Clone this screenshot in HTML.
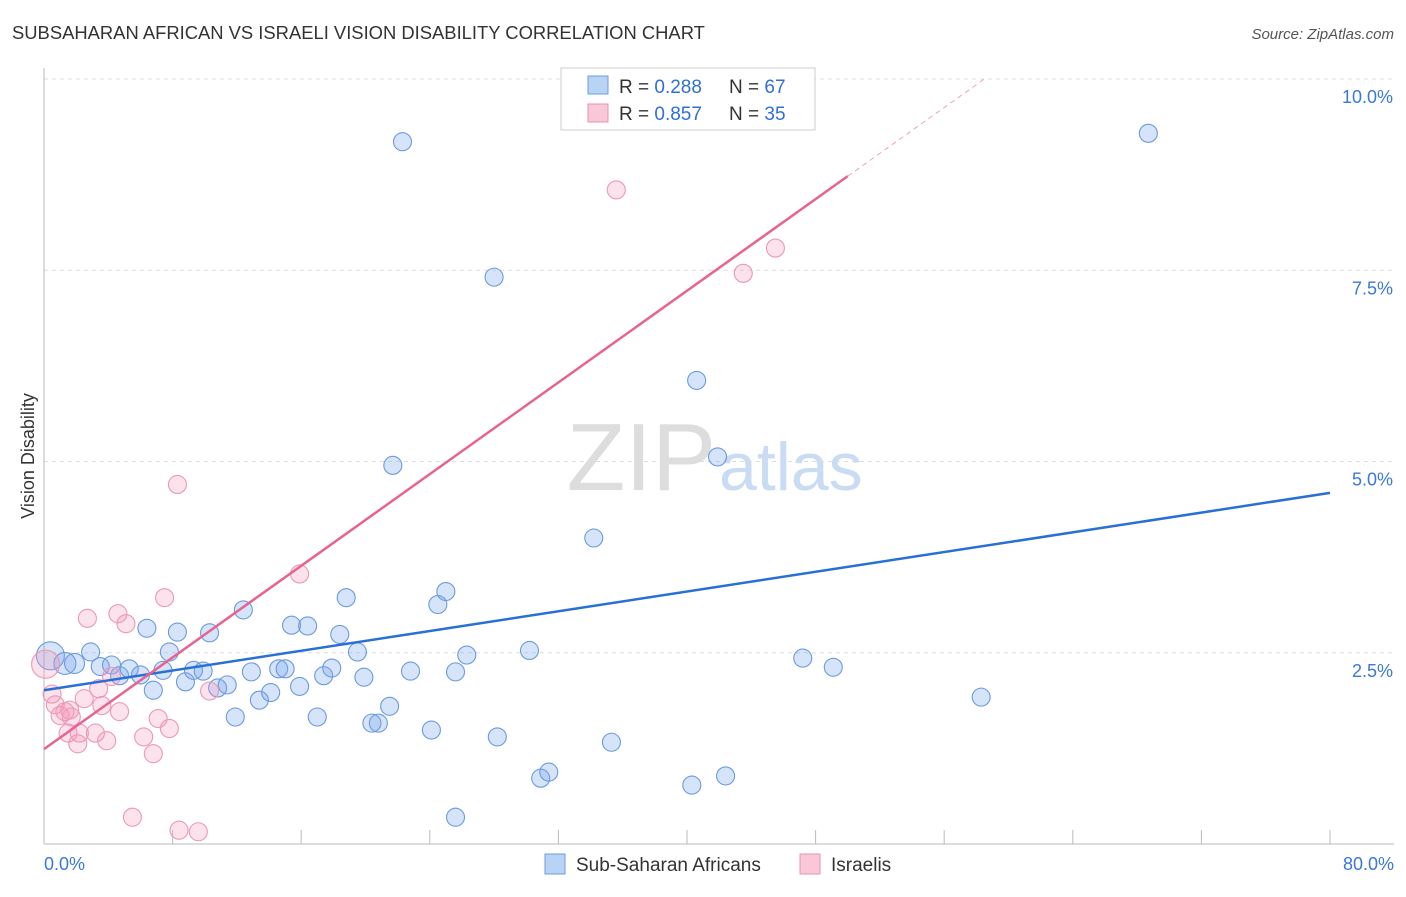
<!DOCTYPE html>
<html><head><meta charset="utf-8">
<style>
body{margin:0;background:#fff;font-family:"Liberation Sans",sans-serif;}
svg text{font-family:"Liberation Sans",sans-serif;}
</style></head>
<body>
<svg id="chart" width="1406" height="892" xmlns="http://www.w3.org/2000/svg">
<text x="12" y="39" font-size="18.4" fill="#333">SUBSAHARAN AFRICAN VS ISRAELI VISION DISABILITY CORRELATION CHART</text>
<text x="1394" y="39" font-size="15" fill="#555" text-anchor="end" font-style="italic">Source: ZipAtlas.com</text>
<text x="34" y="456" font-size="18" fill="#333" text-anchor="middle" transform="rotate(-90 34 456)">Vision Disability</text>
<text x="716" y="490" font-size="96" fill="#ddd" text-anchor="end" font-family="Liberation Serif">ZIP</text>
<text x="719" y="490" font-size="68" fill="#c9dcf3">atlas</text>
<g id="grid"></g>
<g id="axes"></g>
<g id="series-blue"></g>
<g id="series-pink"></g>
<g id="lines"></g>
<g>
<rect x="561" y="68" width="254" height="62" fill="#fff" stroke="#ccc"/>
<rect x="588" y="76" width="20" height="18" fill="#b9d3f5" stroke="#6b9ee0"/>
<rect x="588" y="104" width="20" height="18" fill="#f9c8d8" stroke="#e890ad"/>
<text x="619" y="93" font-size="19" fill="#333">R = <tspan fill="#2f6fd6">0.288</tspan></text>
<text x="729" y="93" font-size="19" fill="#333">N = <tspan fill="#2f6fd6">67</tspan></text>
<text x="619" y="120" font-size="19" fill="#333">R = <tspan fill="#2f6fd6">0.857</tspan></text>
<text x="729" y="120" font-size="19" fill="#333">N = <tspan fill="#2f6fd6">35</tspan></text>
</g>
<g>
<rect x="545" y="854" width="20" height="20" fill="#b9d3f5" stroke="#6b9ee0"/>
<text x="576" y="871" font-size="19" fill="#333">Sub-Saharan Africans</text>
<rect x="800" y="854" width="20" height="20" fill="#f9c8d8" stroke="#e890ad"/>
<text x="831" y="871" font-size="19" fill="#333">Israelis</text>
</g>
</svg>
<script>
const xTicks=[0,8,16,24,32,40,48,56,64,72,80];
const yTicks=[2.5,5.0,7.5,10.0];
const yTickLabels=["2.5%","5.0%","7.5%","10.0%"];
const xLabels=["0.0%","80.0%"];
const blueX=[0.4,1.3,1.9,2.9,3.5,4.2,4.7,5.3,6.0,6.4,6.8,7.4,7.8,8.3,8.8,9.3,9.9,10.3,10.8,11.4,11.9,12.4,12.9,13.4,14.1,14.6,15.0,15.4,15.9,16.4,17.0,17.4,17.9,18.4,18.8,19.5,19.9,20.4,20.8,21.5,21.7,22.3,22.8,24.1,24.5,25.0,25.6,25.6,26.3,28.0,28.2,30.2,30.9,31.4,34.2,35.3,40.3,40.6,41.9,42.4,47.2,49.1,58.3,68.7];
const blueY=[2.46,2.36,2.36,2.51,2.32,2.34,2.20,2.29,2.21,2.82,2.01,2.27,2.51,2.77,2.12,2.27,2.26,2.76,2.04,2.08,1.66,3.06,2.25,1.88,1.98,2.29,2.29,2.86,2.06,2.85,1.66,2.20,2.30,2.74,3.22,2.51,2.18,1.58,1.58,1.80,4.95,9.18,2.26,1.49,3.13,3.30,2.25,0.35,2.47,7.41,1.40,2.53,0.86,0.94,4.00,1.33,0.77,6.06,5.06,0.89,2.43,2.31,1.92,9.29];
const blueR=[14,11,10,9,9,9,9,9,9,9,9,9,9,9,9,9,9,9,9,9,9,9,9,9,9,9,9,9,9,9,9,9,9,9,9,9,9,9,9,9,9,9,9,9,9,9,9,9,9,9,9,9,9,9,9,9,9,9,9,9,9,9,9,9];
const pinkX=[0.1,0.5,0.7,1.0,1.3,1.6,1.7,1.5,2.1,2.2,2.7,2.5,3.2,3.4,3.6,3.9,4.2,4.6,4.7,5.1,5.5,6.2,7.1,6.8,7.5,7.8,8.3,8.4,9.6,10.3,15.9,35.6,43.5,45.5];
const pinkY=[2.35,1.96,1.82,1.68,1.73,1.75,1.66,1.45,1.31,1.45,2.95,1.90,1.45,2.03,1.81,1.35,2.19,3.01,1.73,2.88,0.35,1.40,1.64,1.18,3.22,1.51,4.70,0.18,0.16,2.00,3.53,8.55,7.46,7.79];
const pinkR=[14,9,9,9,9,9,9,9,9,9,9,9,9,9,9,9,9,9,9,9,9,9,9,9,9,9,9,9,9,9,9,9,9,9];
const blueLine=[[0,2.01],[80,4.59]];
const pinkLine=[[0,1.24],[50,8.73]];
const pinkDash=[[50,8.73],[58.5,10.0]];
const X0=44,X1=1330,Y0=844,Y10=79;
const sx=v=>X0+(X1-X0)*v/80;
const sy=v=>Y0-(Y0-Y10)*v/10;
const NS="http://www.w3.org/2000/svg";
function mk(tag,attrs,parent){const e=document.createElementNS(NS,tag);for(const k in attrs)e.setAttribute(k,attrs[k]);parent.appendChild(e);return e;}
const grid=document.getElementById('grid'),axes=document.getElementById('axes');
yTicks.forEach((t,i)=>{
 const l=mk('line',{x1:X0,x2:1394,y1:sy(t),y2:sy(t),stroke:'#ddd','stroke-dasharray':'4,4'},grid);
 
 
 const tx=mk('text',{x:1393,y:sy(t)+24,'font-size':18,fill:'#3b78d8','text-anchor':'end'},axes);
 tx.textContent=yTickLabels[i];
 
 
});
const ax=mk('line',{x1:X0,x2:X0,y1:68,y2:Y0,stroke:'#bbb'},axes);


const bx=mk('line',{x1:X0,x2:1394,y1:Y0,y2:Y0,stroke:'#bbb'},axes);


xTicks.forEach(t=>{
 const l=mk('line',{x1:sx(t),x2:sx(t),y1:830,y2:Y0,stroke:'#bbb'},axes);
 
 
});
[[0,xLabels[0],'start',44],[80,xLabels[1],'end',1394]].forEach(a=>{
 const tx=mk('text',{x:a[3],y:870,'font-size':18,fill:'#3b78d8','text-anchor':a[2]},axes);
 tx.textContent=a[1];
 
 
});
const gb=document.getElementById('series-blue'),gp=document.getElementById('series-pink');
blueX.forEach((v,i)=>{
 const c=mk('circle',{cx:sx(v),cy:sy(blueY[i]),r:blueR[i],fill:'rgba(120,165,235,0.3)',stroke:'#6b9ade','stroke-width':1.1},gb);
 
 
});
pinkX.forEach((v,i)=>{
 const c=mk('circle',{cx:sx(v),cy:sy(pinkY[i]),r:pinkR[i],fill:'rgba(245,150,185,0.28)',stroke:'#ec98b4','stroke-width':1.1},gp);
 
 
});
const gl=document.getElementById('lines');
const b=mk('line',{x1:sx(blueLine[0][0]),y1:sy(blueLine[0][1]),x2:sx(blueLine[1][0]),y2:sy(blueLine[1][1]),stroke:'#2a6fd6','stroke-width':2.5},gl);


const p=mk('line',{x1:sx(pinkLine[0][0]),y1:sy(pinkLine[0][1]),x2:sx(pinkLine[1][0]),y2:sy(pinkLine[1][1]),stroke:'#e8638f','stroke-width':2.5},gl);


const pd=mk('line',{x1:sx(pinkDash[0][0]),y1:sy(pinkDash[0][1]),x2:sx(pinkDash[1][0]),y2:sy(pinkDash[1][1]),stroke:'#f0a0ba','stroke-width':1,'stroke-dasharray':'5,4'},gl);


</script>
</body></html>
